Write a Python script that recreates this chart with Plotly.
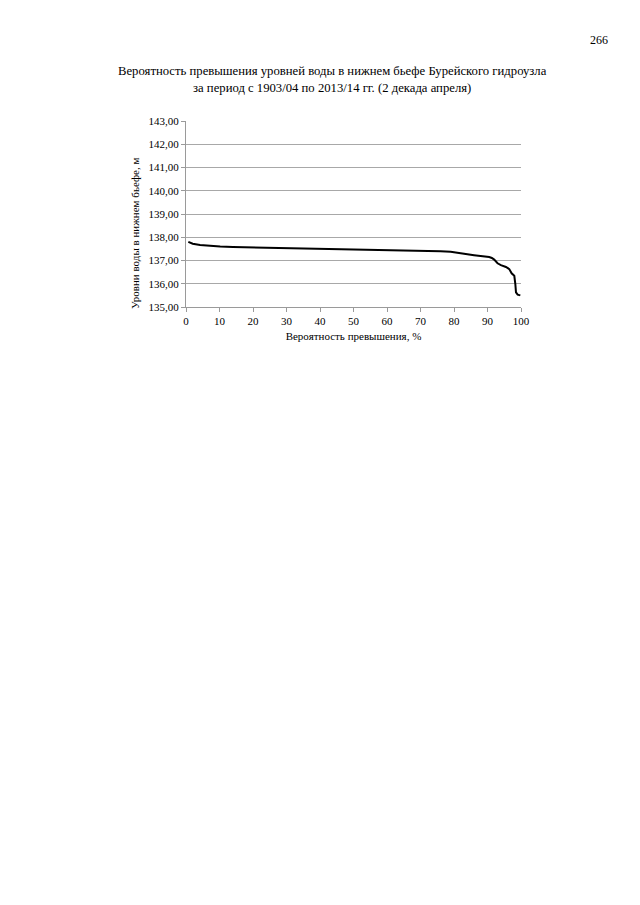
import plotly.graph_objects as go

# Exceedance probability, %
probability = [0.7, 2, 4.2, 7, 10.2, 14, 18.2, 23, 28.1, 34, 40, 46, 52, 57, 62, 67, 72, 76, 79,
               82, 84, 86, 88.5, 90.5, 91.3, 92, 93, 94, 95.5, 96.5, 97.2, 97.7, 98, 98.3, 98.5, 99, 99.8]
# Water level in tail water, m
level = [137.80, 137.72, 137.67, 137.63, 137.60, 137.58, 137.57, 137.55, 137.53, 137.51, 137.49, 137.48,
         137.47, 137.45, 137.43, 137.42, 137.41, 137.40, 137.38, 137.30, 137.27, 137.23, 137.19, 137.15,
         137.11, 137.04, 136.88, 136.80, 136.72, 136.63, 136.45, 136.38, 136.34, 136.00, 135.63, 135.53, 135.50]

x_ticks = [0, 10, 20, 30, 40, 50, 60, 70, 80, 90, 100]
y_ticks = [135, 136, 137, 138, 139, 140, 141, 142, 143]

title_text = ("Вероятность превышения уровней воды в нижнем бьефе Бурейского гидроузла<br>"
              "за период с 1903/04 по 2013/14 гг. (2 декада апреля)")
x_title = "Вероятность превышения, %"
y_title = "Уровни воды в нижнем бьефе, м"
page_number = "266"

serif = "Liberation Serif, Times New Roman, serif"

fig = go.Figure()
fig.add_trace(go.Scatter(x=probability, y=level, mode="lines",
                         line=dict(color="black", width=2), showlegend=False))

fig.update_layout(
    width=632, height=897,
    margin=dict(l=178, r=119, t=113, b=598),
    paper_bgcolor="white", plot_bgcolor="white",
    separators=", ",
    font=dict(family=serif, color="black", size=11),
    annotations=[
        dict(text=title_text, xref="paper", yref="paper", x=0.436, y=1.222,
             xanchor="center", yanchor="middle", showarrow=False,
             font=dict(family=serif, size=12.7, color="black"), align="center"),
        dict(text=page_number, xref="paper", yref="paper", x=1.233, y=1.435,
             xanchor="center", yanchor="middle", showarrow=False,
             font=dict(family=serif, size=12, color="black")),
        dict(text=y_title, xref="paper", yref="paper", x=-0.152, y=0.398,
             xanchor="center", yanchor="middle", showarrow=False, textangle=-90,
             font=dict(family=serif, size=11, color="black")),
    ],
)
fig.update_xaxes(range=[0, 100], tickvals=x_ticks, showgrid=False, zeroline=False,
                 showline=True, linecolor="#9a9a9a", linewidth=1,
                 ticks="outside", ticklen=4, tickcolor="#9a9a9a",
                 tickfont=dict(family=serif, size=11),
                 title=dict(text=x_title, font=dict(family=serif, size=11), standoff=6))
fig.update_yaxes(range=[135, 143], tickvals=y_ticks, tickformat=".2f",
                 showgrid=True, gridcolor="#a8a8a8", gridwidth=1, zeroline=False,
                 showline=True, linecolor="#9a9a9a", linewidth=1,
                 ticks="outside", ticklen=4, tickcolor="#9a9a9a",
                 tickfont=dict(family=serif, size=11))

fig.write_html("out.html")
